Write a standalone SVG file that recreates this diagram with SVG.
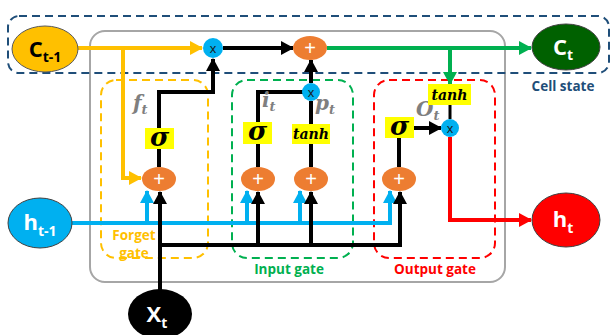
<svg xmlns="http://www.w3.org/2000/svg" width="613" height="335" viewBox="0 0 613 335">
  <style>
    .node { font-family: "Open Sans", "Liberation Sans", sans-serif; font-weight: bold; text-anchor: middle; }
    .gate { font-family: "Open Sans", "Liberation Sans", sans-serif; font-weight: bold; font-size: 13.5px; text-anchor: middle; }
    .math { font-family: "DejaVu Serif", "Liberation Serif", serif; font-style: italic; font-weight: bold; fill: #7f7f7f; }
    .box { fill: #ffff00; }
    .sig { font-family: "DejaVu Serif", "Liberation Serif", serif; font-weight: bold; font-style: italic; font-size: 26px; text-anchor: middle; }
    .tanh { font-family: "DejaVu Serif", "Liberation Serif", serif; font-weight: bold; font-style: italic; font-size: 14px; text-anchor: middle; }
    .add { fill: #ed7d31; }
    .mul { fill: #00b0f0; }
    .op { font-family: "Liberation Sans", sans-serif; text-anchor: middle; }
    .k { stroke: #000; stroke-width: 4; fill: none; }
    .kt { stroke: #000; stroke-width: 3; fill: none; }
    .y { stroke: #ffc000; stroke-width: 4; fill: none; }
    .b { stroke: #00b0f0; stroke-width: 4; fill: none; }
    .g { stroke: #00b050; stroke-width: 4; fill: none; }
    .r { stroke: #ff0000; stroke-width: 4; fill: none; }
    .dash { fill: none; stroke-width: 2; stroke-dasharray: 8 5; }
  </style>
  <defs>
    <marker id="ak" markerUnits="userSpaceOnUse" markerWidth="14" markerHeight="14" refX="12" refY="7" orient="auto"><path d="M0,0 L13,7 L0,14 Z" fill="#000"/></marker>
    <marker id="ay" markerUnits="userSpaceOnUse" markerWidth="14" markerHeight="14" refX="12" refY="7" orient="auto"><path d="M0,0 L13,7 L0,14 Z" fill="#ffc000"/></marker>
    <marker id="ab" markerUnits="userSpaceOnUse" markerWidth="14" markerHeight="14" refX="12" refY="7" orient="auto"><path d="M0,0 L13,7 L0,14 Z" fill="#00b0f0"/></marker>
    <marker id="ag" markerUnits="userSpaceOnUse" markerWidth="14" markerHeight="14" refX="12" refY="7" orient="auto"><path d="M0,0 L13,7 L0,14 Z" fill="#00b050"/></marker>
    <marker id="ar" markerUnits="userSpaceOnUse" markerWidth="14" markerHeight="14" refX="12" refY="7" orient="auto"><path d="M0,0 L13,7 L0,14 Z" fill="#ff0000"/></marker>
  </defs>

  <rect width="613" height="335" fill="#ffffff"/>

  <!-- frames -->
  <g id="frames">
    <rect x="90" y="31" width="415" height="251" rx="15" fill="none" stroke="#a6a6a6" stroke-width="2"/>
    <rect x="8" y="16" width="601" height="57" rx="11" class="dash" stroke="#1f4e79"/>
    <rect x="101" y="80" width="107" height="178" rx="15" class="dash" stroke="#ffc000"/>
    <rect x="232" y="80" width="121" height="178" rx="15" class="dash" stroke="#00b050"/>
    <rect x="374" y="80" width="121" height="178" rx="15" class="dash" stroke="#ff0000"/>
    <text x="563" y="91" class="gate" fill="#1f4e79">Cell state</text>
    <text x="134" y="240" class="gate" fill="#ffc000">Forget</text>
    <text x="134" y="258" class="gate" fill="#ffc000">gate</text>
    <text x="289" y="274" class="gate" fill="#00b050">Input gate</text>
    <text x="435" y="274" class="gate" fill="#ff0000">Output gate</text>
  </g>

  <!-- connectors -->
  <g id="connectors">
    <!-- previous hidden state -->
    <path class="b" d="M72,223 H390 V191" marker-end="url(#ab)"/>
    <path class="b" d="M147,223 V191" marker-end="url(#ab)"/>
    <path class="b" d="M247,223 V191" marker-end="url(#ab)"/>
    <path class="b" d="M300,223 V191" marker-end="url(#ab)"/>
    <!-- input -->
    <path class="k" d="M160,290 V192" marker-end="url(#ak)"/>
    <path class="k" d="M160,245 H400 V192" marker-end="url(#ak)"/>
    <path class="k" d="M258,245 V192" marker-end="url(#ak)"/>
    <path class="k" d="M311,245 V192" marker-end="url(#ak)"/>
    <!-- previous cell state -->
    <path class="y" d="M77,48 H202" marker-end="url(#ay)"/>
    <path class="y" d="M123,48 V178 H141" marker-end="url(#ay)"/>
    <!-- forget gate -->
    <path class="k" d="M159,167 V149"/>
    <path class="k" d="M159,128 V92 H213 V59" marker-end="url(#ak)"/>
    <!-- cell update -->
    <path class="k" d="M223,48 H293" marker-end="url(#ak)"/>
    <path class="g" d="M327,48 H531" marker-end="url(#ag)"/>
    <!-- input gate -->
    <path class="k" d="M258,167 V144"/>
    <path class="k" d="M258,122 V92 H303"/>
    <path class="k" d="M311,167 V144"/>
    <path class="k" d="M311,124 V101"/>
    <path class="k" d="M311,83 V60" marker-end="url(#ak)"/>
    <!-- output gate -->
    <path class="g" d="M450,48 V84" marker-end="url(#ag)"/>
    <path class="kt" d="M450,105 V119"/>
    <path class="k" d="M399,167 V138"/>
    <path class="k" d="M414,128 H441" marker-end="url(#ak)"/>
    <path class="r" d="M450,137 V220 H531" marker-end="url(#ar)"/>
  </g>

  <!-- nodes -->
  <g id="c_prev">
    <ellipse cx="45" cy="49" rx="33" ry="23" fill="#ffc000" stroke="#595959" stroke-width="1"/>
    <text x="45" y="57" class="node" font-size="22" fill="#000">C<tspan font-size="14" dy="5">t-1</tspan></text>
  </g>
  <g id="c_t">
    <ellipse cx="566" cy="47" rx="34" ry="23" fill="#006100" stroke="#404040" stroke-width="1"/>
    <text x="563" y="55" class="node" font-size="22" fill="#fff">C<tspan font-size="14" dy="5">t</tspan></text>
  </g>
  <g id="h_prev">
    <ellipse cx="40" cy="223" rx="32" ry="25" fill="#00b0f0" stroke="#404040" stroke-width="1"/>
    <text x="40" y="230" class="node" font-size="22" fill="#fff">h<tspan font-size="14" dy="6">t-1</tspan></text>
  </g>
  <g id="h_t">
    <ellipse cx="566" cy="220" rx="34" ry="27" fill="#ff0000" stroke="#404040" stroke-width="1"/>
    <text x="563" y="227" class="node" font-size="22" fill="#fff">h<tspan font-size="14" dy="6">t</tspan></text>
  </g>
  <g id="x_t">
    <ellipse cx="160" cy="314" rx="32" ry="25" fill="#000"/>
    <text x="157" y="322" class="node" font-size="22" fill="#fff">X<tspan font-size="14" dy="6">t</tspan></text>
  </g>

  <g id="forget_mul">
    <circle cx="213" cy="48" r="10" class="mul"/>
    <text x="213" y="53" class="op" font-size="13" fill="#1a1a1a">x</text>
  </g>
  <g id="cell_add">
    <ellipse cx="310" cy="48" rx="17" ry="12" class="add"/>
    <text x="310" y="55" class="op" font-size="20" fill="#fff">+</text>
  </g>
  <g id="forget_add">
    <ellipse cx="159" cy="179" rx="17" ry="12" class="add"/>
    <text x="159" y="186" class="op" font-size="20" fill="#fff">+</text>
  </g>
  <g id="forget_sigma">
    <rect x="145" y="128" width="29" height="21" class="box"/>
    <text x="159.5" y="146" class="sig">σ</text>
    <text x="133" y="110" class="math" font-size="20">f<tspan font-size="13" dy="4">t</tspan></text>
  </g>
  <g id="input_add">
    <ellipse cx="258" cy="179" rx="17" ry="12" class="add"/>
    <text x="258" y="186" class="op" font-size="20" fill="#fff">+</text>
  </g>
  <g id="input_sigma">
    <rect x="243" y="122" width="29" height="22" class="box"/>
    <text x="257.5" y="140" class="sig">σ</text>
    <text x="262" y="107" class="math" font-size="20">i<tspan font-size="13" dy="4">t</tspan></text>
  </g>
  <g id="candidate_add">
    <ellipse cx="311" cy="179" rx="17" ry="12" class="add"/>
    <text x="311" y="186" class="op" font-size="20" fill="#fff">+</text>
  </g>
  <g id="candidate_tanh">
    <rect x="292" y="124" width="38" height="20" class="box"/>
    <text x="311" y="139" class="tanh">tanh</text>
    <text x="315" y="110" class="math" font-size="20">p<tspan font-size="13" dy="4">t</tspan></text>
  </g>
  <g id="input_mul">
    <circle cx="311" cy="92" r="9" class="mul"/>
    <text x="311" y="97" class="op" font-size="13" fill="#1a1a1a">x</text>
  </g>
  <g id="output_add">
    <ellipse cx="399" cy="179" rx="17" ry="12" class="add"/>
    <text x="399" y="186" class="op" font-size="20" fill="#fff">+</text>
  </g>
  <g id="output_sigma">
    <rect x="385" y="117" width="29" height="21" class="box"/>
    <text x="399.5" y="135" class="sig">σ</text>
    <text x="416" y="116" class="math" font-size="20">O<tspan font-size="13" dy="4">t</tspan></text>
  </g>
  <g id="output_tanh">
    <rect x="428" y="84" width="43" height="21" class="box"/>
    <text x="449.5" y="100" class="tanh">tanh</text>
  </g>
  <g id="output_mul">
    <circle cx="450" cy="128" r="9" class="mul"/>
    <text x="450" y="133" class="op" font-size="13" fill="#1a1a1a">x</text>
  </g>
</svg>
